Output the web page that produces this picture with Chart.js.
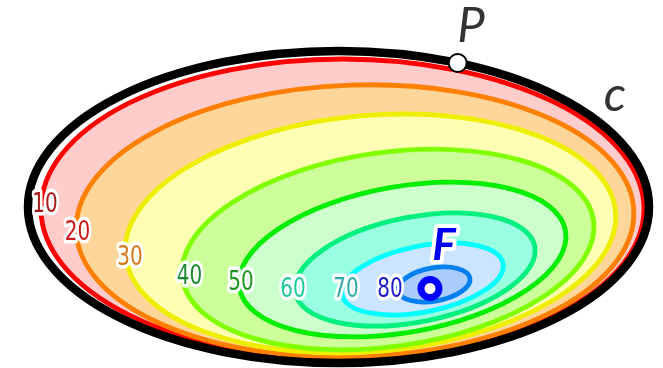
<!DOCTYPE html>
<html>
<head>
<meta charset="utf-8">
<script src="https://cdn.jsdelivr.net/npm/chart.js@4/dist/chart.umd.min.js"></script>
<style>
  html, body { margin: 0; padding: 0; background: #ffffff; }
  canvas { display: block; }
</style>
</head>
<body>
<canvas id="chart" width="663" height="368"></canvas>
<script>
// Contour levels of the field inside the closed curve C (y axis points up)
const levels     = [10, 20, 30, 40, 50, 60, 70, 80];
const centerX    = [342.5, 355, 370.5, 388, 402.5, 415, 422.5, 434];
const centerY    = [159, 147, 134.5, 118.5, 108.5, 98.5, 89, 83.5];
const semiMajor  = [301.5, 279, 246, 207.6, 165.5, 122, 82, 36.5];
const semiMinor  = [150, 136, 118, 97, 73, 52.5, 33, 16.6];
const tiltDeg    = [0, 2, 5, 8, 10, 11, 11, 10];

// Where each level's value is written along its contour
const labelX = [45, 77.5, 130, 189.5, 241, 293, 346, 390];
const labelY = [164, 136, 111, 92, 86, 79, 79, 79];

// Boundary curve C
const curveC = { cx: 338.5, cy: 161, a: 310.5, b: 156, tilt: 0 };

// Named points
const pointP = { x: 457.7, y: 305 };
const pointF = { x: 430, y: 79.5 };

// Text annotations
const annoText = ['P', 'c', 'F'];
const annoX    = [471, 615, 444];
const annoY    = [342, 273, 122];

const lineColors  = ['#ff0000', '#ff8000', '#eeee00', '#80ff00', '#00ee00', '#00f080', '#00ffff', '#0080f0'];
const fillColors  = ['#ffcccc', '#ffd699', '#ffffb3', '#ccff99', '#ccffcc', '#99ffe0', '#cce5ff', '#aaccff'];
const labelColors = ['#a81818', '#cc1a1a', '#d9781a', '#1a8a33', '#1f961f', '#1ccc99', '#33a8a8', '#1a1acc'];

function ellipsePath(ctx, xs, ys, cx, cy, a, b, deg) {
  const px = xs.getPixelForValue(cx);
  const py = ys.getPixelForValue(cy);
  const ra = Math.abs(xs.getPixelForValue(cx + a) - px);
  const rb = Math.abs(ys.getPixelForValue(cy + b) - py);
  ctx.beginPath();
  ctx.ellipse(px, py, ra, rb, -deg * Math.PI / 180, 0, Math.PI * 2);
}

const contourPlugin = {
  id: 'contours',
  beforeDatasetsDraw(chart) {
    const { ctx, scales: { x: xs, y: ys } } = chart;
    ctx.save();
    // interior of C
    ellipsePath(ctx, xs, ys, curveC.cx, curveC.cy, curveC.a, curveC.b, curveC.tilt);
    ctx.fillStyle = '#ffffff';
    ctx.fill();
    // filled bands, outermost first
    for (let i = 0; i < levels.length; i++) {
      ellipsePath(ctx, xs, ys, centerX[i], centerY[i], semiMajor[i], semiMinor[i], tiltDeg[i]);
      ctx.fillStyle = fillColors[i];
      ctx.fill();
    }
    // contour lines
    for (let i = 0; i < levels.length; i++) {
      ellipsePath(ctx, xs, ys, centerX[i], centerY[i], semiMajor[i], semiMinor[i], tiltDeg[i]);
      ctx.lineWidth = 4.8;
      ctx.strokeStyle = lineColors[i];
      ctx.stroke();
    }
    // curve C
    ellipsePath(ctx, xs, ys, curveC.cx, curveC.cy, curveC.a, curveC.b, curveC.tilt);
    ctx.lineWidth = 8.5;
    ctx.strokeStyle = '#000000';
    ctx.stroke();
    ctx.restore();
  },
  afterDatasetsDraw(chart) {
    const { ctx, scales: { x: xs, y: ys } } = chart;
    ctx.save();
    ctx.textAlign = 'center';
    ctx.textBaseline = 'middle';
    ctx.lineJoin = 'round';
    // level labels: narrow digits with a white halo
    ctx.font = '27px "DejaVu Sans", sans-serif';
    for (let i = 0; i < levels.length; i++) {
      const px = xs.getPixelForValue(labelX[i]);
      const py = ys.getPixelForValue(labelY[i]);
      ctx.save();
      ctx.translate(px, py + 1);
      ctx.scale(0.74, 1);
      ctx.lineWidth = 7;
      ctx.strokeStyle = '#ffffff';
      ctx.strokeText(String(levels[i]), 0, 0);
      ctx.fillStyle = labelColors[i];
      ctx.fillText(String(levels[i]), 0, 0);
      ctx.restore();
    }
    // P and c
    ctx.fillStyle = '#333333';
    ctx.font = 'italic 400 49px Lato, "DejaVu Sans", sans-serif';
    ctx.fillText(annoText[0], xs.getPixelForValue(annoX[0]), ys.getPixelForValue(annoY[0]));
    ctx.font = 'italic 400 49px Lato, "DejaVu Sans", sans-serif';
    ctx.fillText(annoText[1], xs.getPixelForValue(annoX[1]), ys.getPixelForValue(annoY[1]));
    // F with white halo
    ctx.font = 'italic 700 44px Lato, "DejaVu Sans", sans-serif';
    const fx = xs.getPixelForValue(annoX[2]);
    const fy = ys.getPixelForValue(annoY[2]);
    ctx.lineWidth = 8;
    ctx.strokeStyle = '#ffffff';
    ctx.strokeText(annoText[2], fx, fy);
    ctx.fillStyle = '#0000ee';
    ctx.fillText(annoText[2], fx, fy);
    ctx.restore();
  }
};

new Chart(document.getElementById('chart'), {
  type: 'scatter',
  data: {
    datasets: [
      {
        label: 'P',
        data: [pointP],
        pointRadius: 9,
        pointBorderWidth: 2,
        pointBackgroundColor: '#ffffff',
        pointBorderColor: '#000000',
        clip: false
      },
      {
        label: 'F',
        data: [pointF],
        pointRadius: 9,
        pointBorderWidth: 7,
        pointBackgroundColor: '#ffffff',
        pointBorderColor: '#0000ff',
        clip: false
      }
    ]
  },
  options: {
    responsive: false,
    animation: false,
    devicePixelRatio: 1,
    layout: { padding: 0, autoPadding: false },
    events: [],
    scales: {
      x: { type: 'linear', min: 0, max: 663, display: false },
      y: { type: 'linear', min: 0, max: 368, display: false }
    },
    plugins: {
      legend: { display: false },
      tooltip: { enabled: false }
    }
  },
  plugins: [contourPlugin]
});
</script>
</body>
</html>
